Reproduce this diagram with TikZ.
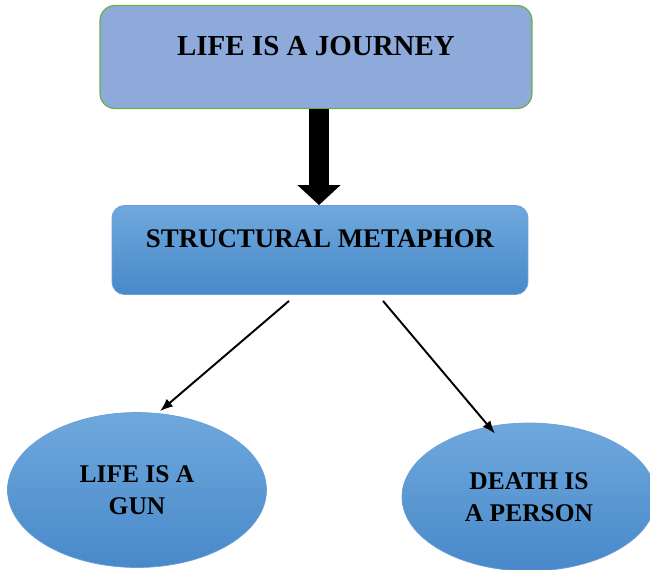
\documentclass[tikz,border=0pt]{standalone}
\usepackage{fontspec}
\setmainfont{Liberation Serif}
\usetikzlibrary{shapes.geometric, arrows.meta}
\definecolor{boxblue}{HTML}{8EAADB}
\definecolor{boxgreen}{HTML}{70AD47}
\definecolor{lightblue}{HTML}{6FA8DC}
\definecolor{deepblue}{HTML}{4889CA}
\definecolor{edgeblue}{HTML}{6A9FD6}
\begin{document}
\begin{tikzpicture}[
  x=0.02cm, y=-0.02cm,
  topbox/.style={draw=boxgreen, line width=0.7pt, fill=boxblue,
               rounded corners=0.3cm, inner sep=0pt, minimum width=8.64cm,
               text height=1.0cm, text depth=1.06cm,
               font=\fontsize{16.5}{19}\bfseries},
  midbox/.style={draw=edgeblue, line width=0.5pt, top color=lightblue,
               bottom color=deepblue, rounded corners=0.25cm, inner sep=0pt,
               minimum width=8.32cm, text height=0.84cm, text depth=0.94cm,
               font=\fontsize{15.3}{18}\bfseries},
  blob/.style={ellipse, draw=edgeblue, line width=0.4pt, top color=lightblue,
               bottom color=deepblue, inner sep=0pt, align=center,
               font=\fontsize{14.5}{18.5}\bfseries},
  bigarrow/.style={line width=0.4cm, -{Triangle[width=0.84cm, length=0.4cm]}},
  link/.style={line width=1.1pt, -{Latex[length=0.26cm, width=0.2cm]}},
]
\useasboundingbox (0,0) rectangle (650,569);
\clip (0,0) rectangle (650,569);
% Hộp trên: ẩn dụ chính
\node[topbox] (journey) at (316,57) {LIFE IS A JOURNEY};
% Hộp giữa
\node[midbox] (metaphor) at (320,250) {STRUCTURAL METAPHOR};
% Hai elip dưới
\node[blob, minimum width=5.18cm, minimum height=3.1cm] (gun) at (137,490)
  {LIFE IS A\\GUN};
\node[blob, minimum width=5.08cm, minimum height=2.96cm] (person) at (529,497)
  {DEATH IS\\A PERSON};

% Liên kết
\draw[bigarrow] ([xshift=-0.02cm]metaphor.north |- journey.south)
  -- ([xshift=-0.02cm]metaphor.north);
\draw[link] ([xshift=-0.62cm, yshift=-0.12cm]metaphor.south)
  -- ([xshift=0.46cm, yshift=0.02cm]gun.north);
\draw[link] ([xshift=1.26cm, yshift=-0.12cm]metaphor.south)
  -- ([xshift=-0.68cm, yshift=-0.22cm]person.north);
\end{tikzpicture}
\end{document}
